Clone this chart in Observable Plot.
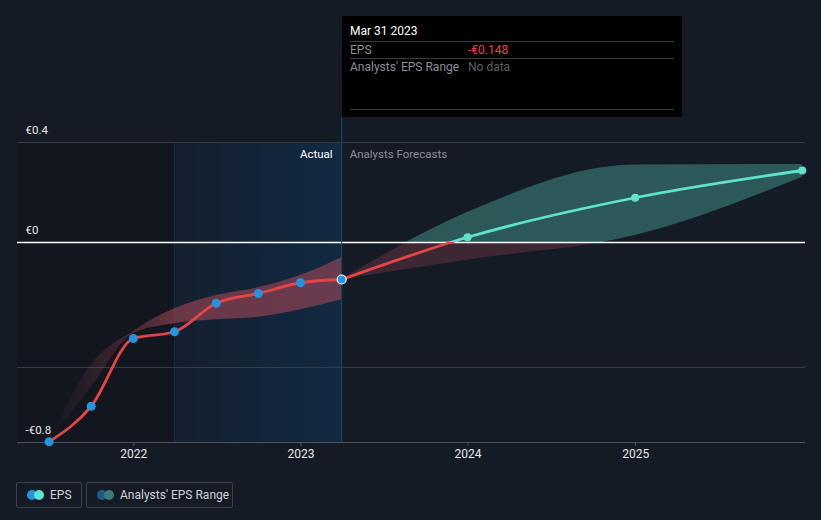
<!DOCTYPE html>
<html>
<head>
<meta charset="utf-8">
<script src="https://cdn.jsdelivr.net/npm/d3@7"></script>
<script src="https://cdn.jsdelivr.net/npm/@observablehq/plot@0.6"></script>
<style>
  body { margin: 0; background: #151b25; font-family: Roboto, "Noto Sans", sans-serif; }
  #wrap { position: relative; width: 821px; height: 520px; overflow: hidden; background: #151b25; }
  #chart { position: absolute; left: 0; top: 0; }
  #tip { position: absolute; left: 342px; top: 16px; width: 340px; height: 101px; background: #000; }
  #tip .t { position: absolute; left: 8px; font-size: 12px; line-height: 16px; white-space: nowrap; }
  #tip .sep { position: absolute; left: 8px; width: 324px; height: 1px; background: #3a3a3a; }
  .leg { position: absolute; top: 482px; height: 26px; border: 1px solid #3c414c; border-radius: 2px; box-sizing: border-box; }
  .leg .d { position: absolute; top: 7px; width: 10px; height: 10px; border-radius: 50%; }
  .leg .lt { position: absolute; left: 33px; top: 5px; font-size: 12px; line-height: 14px; color: #cfd2d8; white-space: nowrap; }
</style>
</head>
<body>
<div id="wrap">
  <div id="chart"></div>
  <div id="tip">
    <div class="t" style="top:7px;color:#fff;">Mar 31 2023</div>
    <div class="sep" style="top:25px;"></div>
    <div class="t" style="top:26px;color:#8a8f99;">EPS</div>
    <div class="t" style="top:26px;left:126px;color:#e84545;">-€0.148</div>
    <div class="sep" style="top:42px;"></div>
    <div class="t" style="top:43px;color:#8a8f99;">Analysts' EPS Range</div>
    <div class="t" style="top:43px;left:126px;color:#5d6068;">No data</div>
    <div class="sep" style="top:93px;"></div>
  </div>
  <div class="leg" style="left:16px;width:66px;">
    <div class="d" style="left:10px;background:#2394df;"></div>
    <div class="d" style="left:17px;background:#5fe3cb;"></div>
    <div class="lt">EPS</div>
  </div>
  <div class="leg" style="left:86px;width:147px;">
    <div class="d" style="left:10px;background:#1f5a85;"></div>
    <div class="d" style="left:17px;background:#3b7b78;"></div>
    <div class="lt">Analysts' EPS Range</div>
  </div>
</div>
<script>
// ---- data ----
const actualDates = ["2021-06-30","2021-09-30","2021-12-31","2022-03-31","2022-06-30","2022-09-30","2022-12-31","2023-03-31"];
const actualEPS   = [-0.797, -0.655, -0.384, -0.357, -0.243, -0.204, -0.161, -0.148];
const actualLow   = [-0.797, -0.58, -0.365, -0.325, -0.309, -0.299, -0.269, -0.229];
const actualHigh  = [-0.797, -0.49, -0.355, -0.265, -0.212, -0.181, -0.132, -0.061];

const forecastDates = ["2023-03-31","2023-12-31","2024-12-31","2025-12-31"];
const forecastEPS   = [-0.148, 0.021, 0.179, 0.288];
const forecastLow   = [-0.148, -0.07, 0.028, 0.261];
const forecastHigh  = [-0.148, 0.12, 0.31, 0.312];

const xDomain = ["2021-04-22","2026-01-07"];
const pastYearStart = "2022-03-31";
const lastActual = "2023-03-31";
const xTickYears = ["2022-01-01","2023-01-01","2024-01-01","2025-01-01"];
const yTickValues = [0.4, 0, -0.8];
const yTickLabels = ["€0.4", "€0", "-€0.8"];
const gridValues = [0.4, -0.5];
const sectionLabels = ["Actual", "Analysts Forecasts"];

// ---- build ----
const P = d => new Date(d + "T00:00:00Z");
const actual = actualDates.map((d, i) => ({date: P(d), eps: actualEPS[i], lo: actualLow[i], hi: actualHigh[i]}));
const forecast = forecastDates.map((d, i) => ({date: P(d), eps: forecastEPS[i], lo: forecastLow[i], hi: forecastHigh[i]}));
const x0 = P(xDomain[0]), x1 = P(xDomain[1]);
const yTop = yTickValues[0], yBot = yTickValues[2];

const plot = Plot.plot({
  width: 821,
  height: 470,
  marginTop: 142,
  marginBottom: 28,
  marginLeft: 17,
  marginRight: 16,
  style: {background: "transparent", fontFamily: "Roboto, 'Noto Sans', sans-serif", fontSize: "12px", overflow: "visible"},
  x: {type: "utc", domain: [x0, x1], axis: null},
  y: {domain: [yBot, yTop], axis: null},
  marks: [
    Plot.rect([{a: x0, b: P(pastYearStart)}], {x1: "a", x2: "b", y1: yBot, y2: yTop, fill: "#12161e"}),
    Plot.rect([{a: P(pastYearStart), b: P(lastActual)}], {x1: "a", x2: "b", y1: yBot, y2: yTop, fill: "url(#blueGrad)"}),
    Plot.ruleX([P(pastYearStart)], {y1: yBot, y2: yTop, stroke: "#1a283a", strokeWidth: 1}),
    Plot.ruleY(gridValues, {x1: x0, x2: x1, stroke: "#363b45", strokeWidth: 1}),
    Plot.ruleY([yBot], {x1: x0, x2: x1, stroke: "#4d525b", strokeWidth: 1}),
    Plot.areaY(actual, {x: "date", y1: "lo", y2: "hi", fill: "url(#actBandGrad)", curve: "monotone-x"}),
    Plot.areaY(forecast, {x: "date", y1: "lo", y2: "hi", fill: "url(#signFill)", curve: "monotone-x"}),
    Plot.ruleY([0], {x1: x0, x2: x1, stroke: "#ffffff", strokeWidth: 1.5}),
    Plot.ruleX([P(lastActual)], {y1: yBot, y2: yTop + 0.1, stroke: "#1d4a70", strokeWidth: 1}),
    Plot.line(actual, {x: "date", y: "eps", stroke: "#e64545", strokeWidth: 2.8, curve: "monotone-x"}),
    Plot.line(forecast, {x: "date", y: "eps", stroke: "url(#signStroke)", strokeWidth: 2.8, curve: "monotone-x"}),
    Plot.dot(actual.slice(0, -1), {x: "date", y: "eps", r: 4.5, fill: "#2394df"}),
    Plot.dot(actual.slice(-1), {x: "date", y: "eps", r: 4.5, fill: "#2394df", stroke: "#ffffff", strokeWidth: 1.2}),
    Plot.dot(forecast.slice(1), {x: "date", y: "eps", r: 4, fill: "#5fe3cb"}),
    Plot.text([sectionLabels[0]], {x: P(lastActual), y: yTop, dx: -9, dy: 12, textAnchor: "end", fill: "#ffffff", fontSize: 11.5}),
    Plot.text([sectionLabels[1]], {x: P(lastActual), y: yTop, dx: 8, dy: 12, textAnchor: "start", fill: "#8a8f99", fontSize: 11.5}),
    Plot.text(yTickValues, {x: x0, y: d => d, text: (d, i) => yTickLabels[i], dx: 8, dy: -12, textAnchor: "start", fill: "#e6e6e6", fontSize: 11.5}),
    Plot.axisX({ticks: xTickYears.map(P), tickFormat: "%Y", tickSize: 4, tickPadding: 3, stroke: "#4d525b", fill: "#e6e6e6", label: null, fontSize: 12})
  ]
});

document.getElementById("chart").appendChild(plot);

// gradients
const ys = plot.scale("y");
const pyTop = ys.apply(yTop), pyBot = ys.apply(yBot), pyZero = ys.apply(0);
const zeroOff = (pyZero - pyTop) / (pyBot - pyTop);
const svg = d3.select(plot);
const defs = svg.insert("defs", ":first-child");

const g1 = defs.append("linearGradient").attr("id", "blueGrad").attr("x1", 0).attr("x2", 1).attr("y1", 0).attr("y2", 0);
g1.append("stop").attr("offset", 0).attr("stop-color", "#141f2e");
g1.append("stop").attr("offset", 1).attr("stop-color", "#112a42");

const g2 = defs.append("linearGradient").attr("id", "actBandGrad").attr("x1", 0).attr("x2", 1).attr("y1", 0).attr("y2", 0);
[[0, 0.0], [0.29, 0.32], [0.42, 0.55], [1, 0.55]].forEach(([o, a]) =>
  g2.append("stop").attr("offset", o).attr("stop-color", "#b04a5a").attr("stop-opacity", a));

const g3 = defs.append("linearGradient").attr("id", "signFill").attr("gradientUnits", "userSpaceOnUse")
  .attr("x1", 0).attr("x2", 0).attr("y1", pyTop).attr("y2", pyBot);
g3.append("stop").attr("offset", 0).attr("stop-color", "#5fe3cb").attr("stop-opacity", 0.31);
g3.append("stop").attr("offset", zeroOff).attr("stop-color", "#5fe3cb").attr("stop-opacity", 0.31);
g3.append("stop").attr("offset", zeroOff).attr("stop-color", "#b04a5a").attr("stop-opacity", 0.26);
g3.append("stop").attr("offset", 1).attr("stop-color", "#b04a5a").attr("stop-opacity", 0.26);

const g4 = defs.append("linearGradient").attr("id", "signStroke").attr("gradientUnits", "userSpaceOnUse")
  .attr("x1", 0).attr("x2", 0).attr("y1", pyTop).attr("y2", pyBot);
g4.append("stop").attr("offset", 0).attr("stop-color", "#5fe3cb");
g4.append("stop").attr("offset", zeroOff).attr("stop-color", "#5fe3cb");
g4.append("stop").attr("offset", zeroOff).attr("stop-color", "#e64545");
g4.append("stop").attr("offset", 1).attr("stop-color", "#e64545");
</script>
</body>
</html>
